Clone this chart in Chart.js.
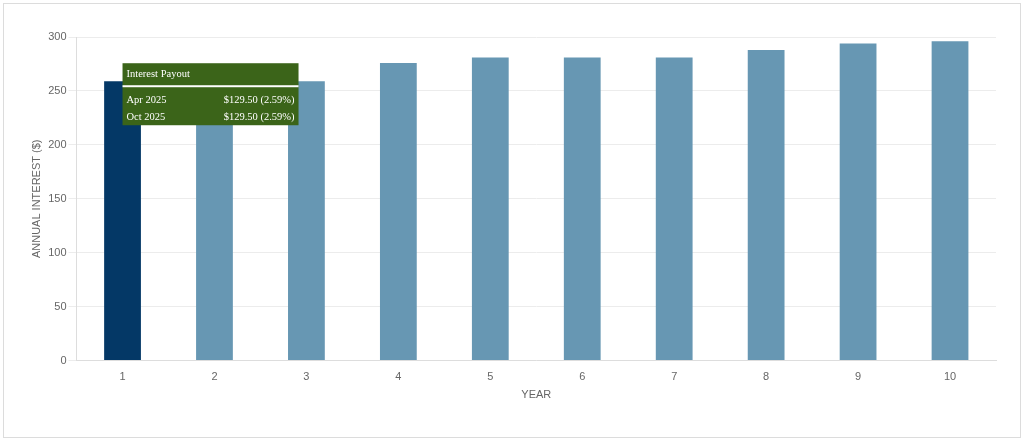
<!DOCTYPE html>
<html>
<head>
<meta charset="utf-8">
<script src="https://cdn.jsdelivr.net/npm/chart.js@4.4.1/dist/chart.umd.min.js"></script>
<style>
  html, body { margin: 0; padding: 0; background: #fff; }
  #frame { position: absolute; left: 3px; top: 3px; width: 1016px; height: 433px; border: 1px solid #dcdcdc; }
  #wrap { position: absolute; left: 0; top: 0; width: 1024px; height: 442px; }
</style>
</head>
<body>
<div id="frame"></div>
<div id="wrap"><canvas id="stage" width="1024" height="442"></canvas></div>
<script>
// 年ごとの利息
const years = ['1', '2', '3', '4', '5', '6', '7', '8', '9', '10'];
const interest = [259, 259, 259, 276, 281, 281, 281, 288, 294, 296];
const yTicks = [0, 50, 100, 150, 200, 250, 300];

// ツールチップの中身（1年目）
const payoutTitle = 'Interest Payout';
const payoutDates = ['Apr 2025', 'Oct 2025'];
const payoutAmounts = ['$129.50 (2.59%)', '$129.50 (2.59%)'];

const selected = 0;
const barColors = interest.map((v, i) => i === selected ? '#043866' : '#6797b3');

// 選択中の年のツールチップを常に表示
const payoutBox = {
  id: 'payoutBox',
  afterDraw(chart) {
    const el = chart.getDatasetMeta(0).data[selected];
    const ctx = chart.ctx;
    const x = el.x;
    const y = el.y - 18;
    const w = 176;
    const h = 62;
    ctx.save();
    ctx.fillStyle = '#3b6419';
    ctx.fillRect(x, y, w, h);
    ctx.fillStyle = '#ffffff';
    ctx.fillRect(x, y + 22, w, 2);
    ctx.font = '10.5px "Liberation Serif", "Times New Roman", serif';
    ctx.textBaseline = 'alphabetic';
    ctx.textAlign = 'left';
    ctx.fillText(payoutTitle, x + 4, y + 14);
    payoutDates.forEach((d, i) => {
      const ly = y + 40 + i * 17;
      ctx.textAlign = 'left';
      ctx.fillText(d, x + 4, ly);
      ctx.textAlign = 'right';
      ctx.fillText(payoutAmounts[i], x + w - 4, ly);
    });
    ctx.restore();
  }
};

new Chart(document.getElementById('stage'), {
  type: 'bar',
  data: {
    labels: years,
    datasets: [{
      data: interest,
      backgroundColor: barColors,
      borderWidth: 0,
      barPercentage: 0.4,
      categoryPercentage: 1.0
    }]
  },
  options: {
    responsive: false,
    animation: false,
    devicePixelRatio: 1,
    layout: { padding: { left: 30, right: 28, top: 37, bottom: 40 } },
    plugins: {
      legend: { display: false },
      tooltip: { enabled: false }
    },
    scales: {
      x: {
        grid: { display: false },
        border: { color: '#dddddd' },
        ticks: { color: '#666', font: { family: '"Liberation Sans", Arial, sans-serif', size: 11 }, padding: 2 },
        title: { display: true, text: 'YEAR', color: '#666', font: { family: '"Liberation Sans", Arial, sans-serif', size: 11 }, padding: { top: 3, bottom: 0 } }
      },
      y: {
        min: 0,
        max: 300,
        afterBuildTicks: axis => { axis.ticks = yTicks.map(v => ({ value: v })); },
        grid: { color: '#ececec', tickLength: 8 },
        border: { color: '#dddddd' },
        ticks: { color: '#666', font: { family: '"Liberation Sans", Arial, sans-serif', size: 11 }, padding: 2 },
        title: { display: true, text: 'ANNUAL INTEREST ($)', color: '#666', font: { family: '"Liberation Sans", Arial, sans-serif', size: 11 }, padding: { top: 0, bottom: 3 } }
      }
    }
  },
  plugins: [payoutBox]
});
</script>
</body>
</html>
